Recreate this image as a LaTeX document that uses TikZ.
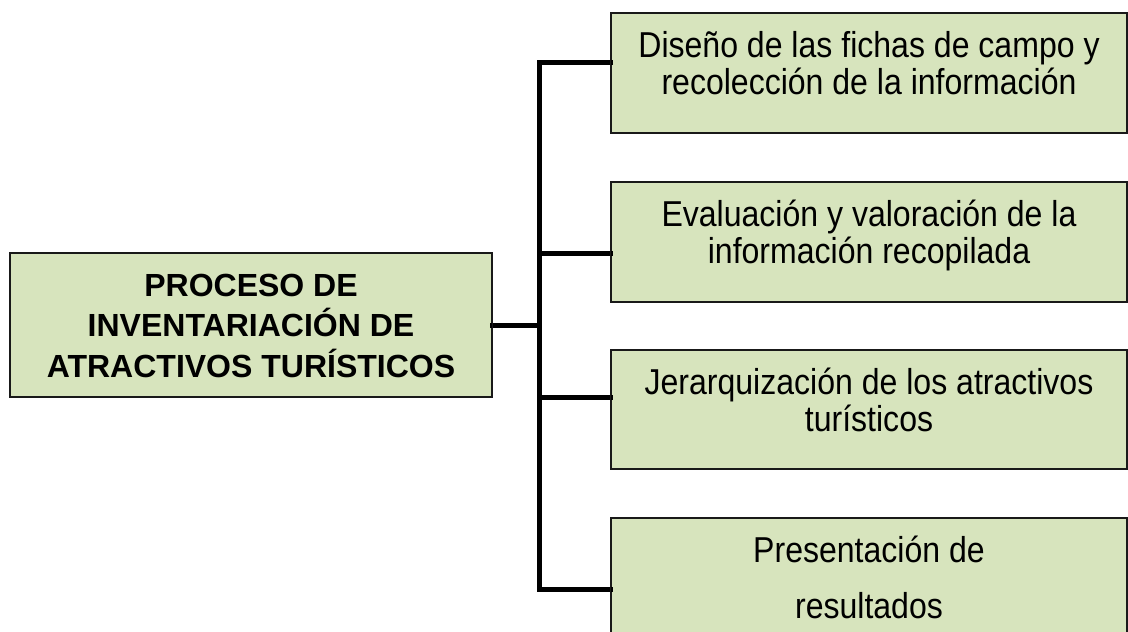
\documentclass[tikz,border=0pt]{standalone}
\usepackage{fontspec}
\setmainfont{Liberation Sans}
\newfontfamily\narrowfont[FakeStretch=0.89]{Liberation Sans}
\definecolor{boxfill}{HTML}{D7E4BD}
\definecolor{shadowgray}{HTML}{9A9A9A}
\tikzset{
  boxnode/.style={draw=black!90, line width=1.2pt, fill=boxfill, rectangle, inner sep=0pt},
  txt/.style={anchor=base, inner sep=0pt, font=\narrowfont\fontsize{36}{37}\selectfont},
  maintxt/.style={anchor=base, inner sep=0pt, font=\fontsize{32}{40}\selectfont\bfseries},
  conn/.style={line width=5pt, black, line cap=rect, line join=miter},
  connshadow/.style={line width=5pt, shadowgray, line cap=rect, line join=miter},
}
\begin{document}
\begin{tikzpicture}[x=1pt, y=-1pt]
\useasboundingbox (0,0) rectangle (1128,632);
% boxes
\node[boxnode, minimum width=482pt, minimum height=144pt] (m) at (251,325) {};
\node[boxnode, minimum width=516pt, minimum height=120pt] (b1) at (869,73) {};
\node[boxnode, minimum width=516pt, minimum height=120pt] (b2) at (869,242) {};
\node[boxnode, minimum width=516pt, minimum height=119pt] (b3) at (869,409.5) {};
\node[boxnode, minimum width=516pt, minimum height=130pt] (b4) at (869,583) {};
% junction points on the bar
\coordinate (j1) at (539,62);
\coordinate (j2) at (539,253);
\coordinate (jm) at (539,325);
\coordinate (j3) at (539,397);
\coordinate (j4) at (539,589);
% shadows
\begin{scope}[shift={(1.5,1.5)}]
\draw[connshadow] (b1.west |- j1) -- (j1) -- (j4) -- (b4.west |- j4);
\draw[connshadow] (j2) -- (b2.west |- j2);
\draw[connshadow] (j3) -- (b3.west |- j3);
\draw[connshadow] (m.east |- jm) -- (jm);
\end{scope}
% connectors
\draw[conn] (b1.west |- j1) -- (j1) -- (j4) -- (b4.west |- j4);
\draw[conn] (j2) -- (b2.west |- j2);
\draw[conn] (j3) -- (b3.west |- j3);
\draw[conn] (m.east |- jm) -- (jm);
% redraw box borders over connector ends
\foreach \b in {m,b1,b2,b3,b4} {\draw[black!90, line width=1.2pt] (\b.north west) rectangle (\b.south east);}
% texts
\node[maintxt] (mt) at (251,296.5) {\begin{tabular}[t]{@{}c@{}}PROCESO DE\\INVENTARIACIÓN DE\\ATRACTIVOS TURÍSTICOS\end{tabular}};
\node[txt] (t1) at (869,57) {\begin{tabular}[t]{@{}c@{}}Diseño de las fichas de campo y\\recolección de la información\end{tabular}};
\node[txt] (t2) at (869,226) {\begin{tabular}[t]{@{}c@{}}Evaluación y valoración de la\\información recopilada\end{tabular}};
\node[txt] (t3) at (869,394) {\begin{tabular}[t]{@{}c@{}}Jerarquización de los atractivos\\turísticos\end{tabular}};
\node[txt] (t4) at (869,562) {\def\arraystretch{1.514}\begin{tabular}[t]{@{}c@{}}Presentación de\\resultados\end{tabular}};
\end{tikzpicture}
\end{document}
